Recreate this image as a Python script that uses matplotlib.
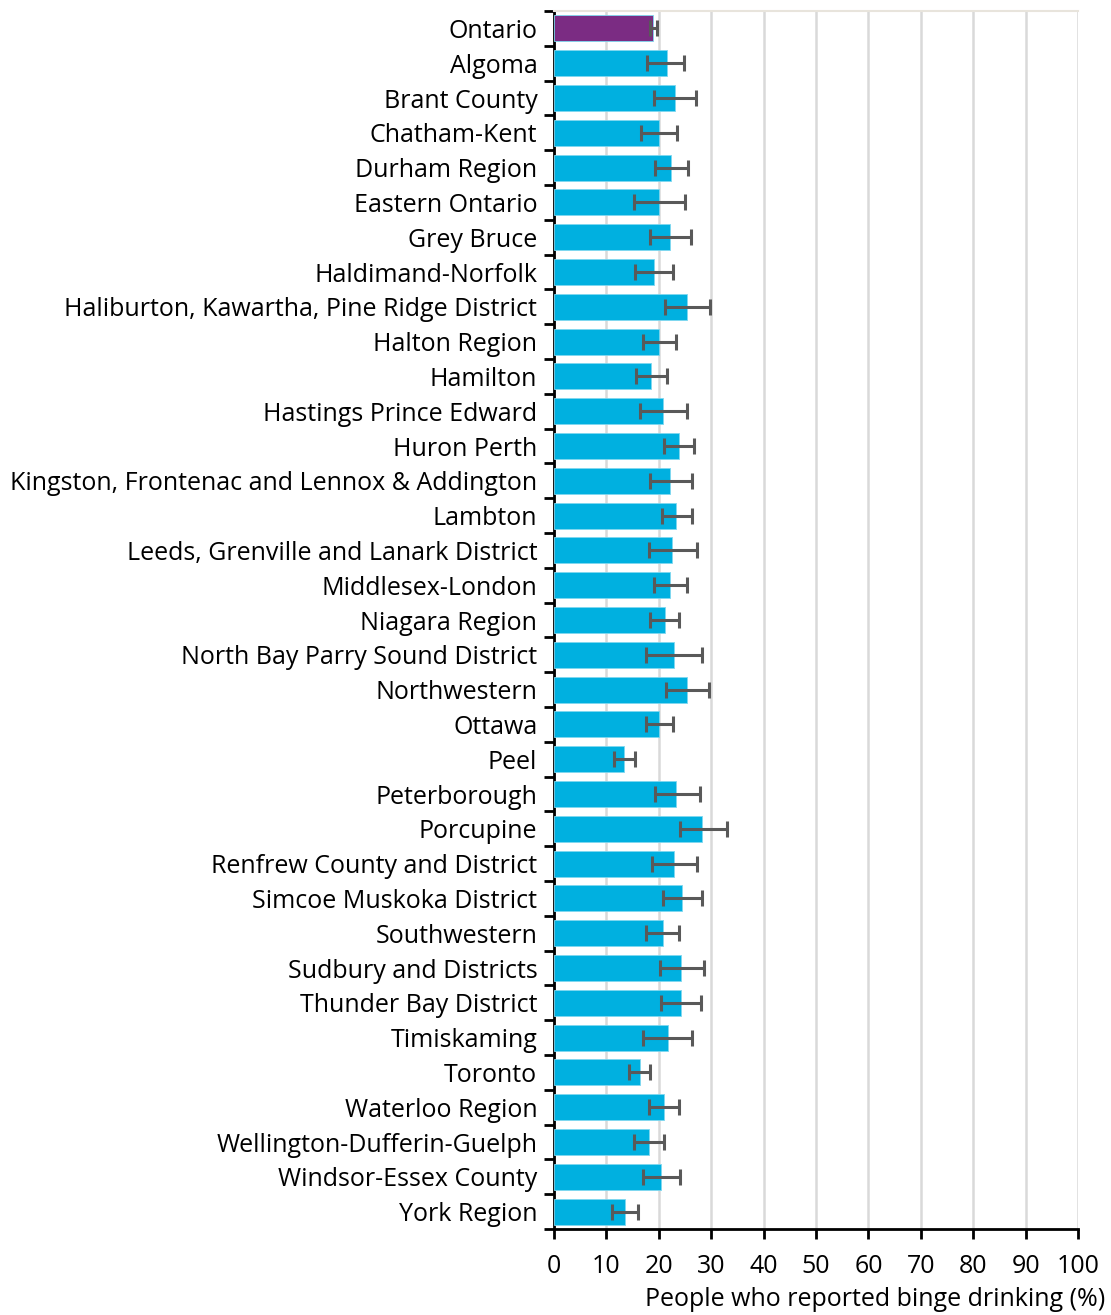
import numpy as np
import matplotlib.pyplot as plt

regions = ["Ontario", "Algoma", "Brant County", "Chatham-Kent", "Durham Region",
           "Eastern Ontario", "Grey Bruce", "Haldimand-Norfolk",
           "Haliburton, Kawartha, Pine Ridge District", "Halton Region", "Hamilton",
           "Hastings Prince Edward", "Huron Perth",
           "Kingston, Frontenac and Lennox & Addington", "Lambton",
           "Leeds, Grenville and Lanark District", "Middlesex-London", "Niagara Region",
           "North Bay Parry Sound District", "Northwestern", "Ottawa", "Peel",
           "Peterborough", "Porcupine", "Renfrew County and District",
           "Simcoe Muskoka District", "Southwestern", "Sudbury and Districts",
           "Thunder Bay District", "Timiskaming", "Toronto", "Waterloo Region",
           "Wellington-Dufferin-Guelph", "Windsor-Essex County", "York Region"]

pct = [18.9, 21.5, 23.1, 20.0, 22.4, 20.0, 22.2, 19.1, 25.3, 20.0, 18.5, 20.8, 23.8,
       22.2, 23.3, 22.6, 22.2, 21.2, 22.9, 25.3, 20.0, 13.3, 23.3, 28.3, 22.9, 24.5,
       20.8, 24.3, 24.3, 21.7, 16.4, 21.0, 18.1, 20.5, 13.6]
ci_low = [18.3, 17.8, 19.0, 16.6, 19.3, 15.2, 18.3, 15.5, 21.2, 16.9, 15.7, 16.4, 21.0,
          18.3, 20.7, 18.1, 19.0, 18.3, 17.6, 21.4, 17.6, 11.4, 19.3, 24.1, 18.8, 20.8,
          17.6, 20.2, 20.4, 16.9, 14.3, 18.1, 15.2, 16.9, 11.1]
ci_high = [19.6, 24.9, 27.1, 23.5, 25.6, 25.1, 26.1, 22.7, 29.7, 23.2, 21.5, 25.3, 26.8,
           26.3, 26.3, 27.3, 25.4, 23.9, 28.2, 29.5, 22.7, 15.4, 27.8, 33.1, 27.3, 28.2,
           23.9, 28.7, 28.0, 26.3, 18.4, 23.9, 21.0, 24.1, 16.0]

pct = np.array(pct)
err = np.array([pct - np.array(ci_low), np.array(ci_high) - pct])
y = np.arange(len(regions))
colors = ['#7B2C83'] + ['#00B0E0'] * (len(regions) - 1)

plt.rcParams['font.family'] = ['Open Sans', 'DejaVu Sans']
fs = 18

fig = plt.figure(figsize=(11.11, 13.15), dpi=100)
ax = fig.add_axes([0.4986, 0.0654, 0.4717, 0.9262])

ax.barh(y, pct, height=0.75, color=colors, edgecolor='#7fd7ef', linewidth=0.6, zorder=3)
ax.errorbar(pct, y, xerr=err, fmt='none', ecolor='#595959', elinewidth=2.2,
            capsize=5.5, capthick=2.2, zorder=4)

ax.set_xlim(0, 100)
ax.set_ylim(len(regions) - 0.5, -0.5)
ax.set_xticks(np.arange(0, 101, 10))
ax.tick_params(axis='x', labelsize=fs, length=7, width=2, direction='out', pad=11)
ax.xaxis.grid(True, color='#d9d9d9', linewidth=1.8, zorder=0)
ax.set_axisbelow(True)

ax.set_yticks(y)
ax.set_yticklabels(regions, fontsize=fs)
ax.tick_params(axis='y', length=0, pad=12)
ax.set_yticks(np.arange(-0.5, len(regions)), minor=True)
ax.tick_params(axis='y', which='minor', length=7, width=2)

ax.spines['left'].set_linewidth(2)
ax.spines['bottom'].set_linewidth(2)
ax.spines['top'].set_color('#e8e4dc')
ax.spines['top'].set_linewidth(1.5)
ax.spines['right'].set_visible(False)

fig.text(1105 / 1111, 1 - 1300 / 1315, "People who reported binge drinking (%)",
         ha='right', va='center', fontsize=fs)

fig.savefig('out.png', dpi=100)
